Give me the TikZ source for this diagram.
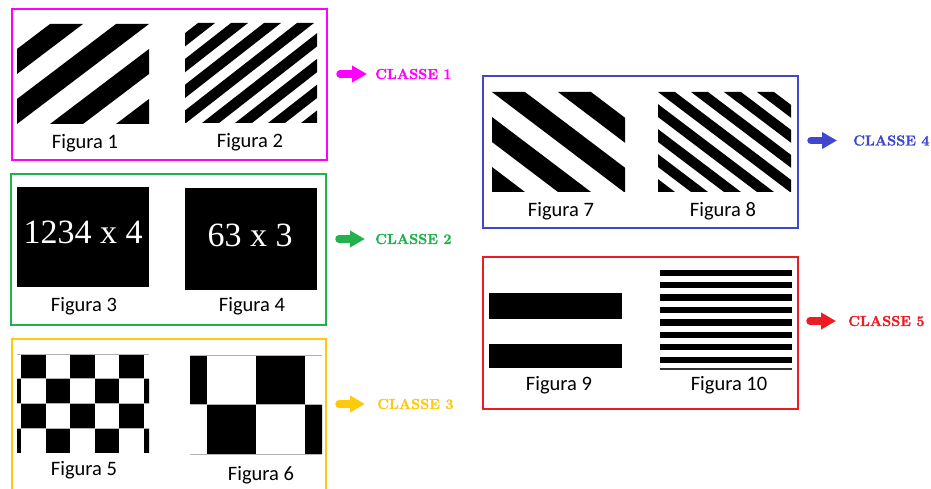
\documentclass[tikz,border=0pt]{standalone}
\usepackage{fontspec}
\newfontfamily\figfont{Carlito}
\newfontfamily\numfont{Liberation Serif}
\newfontfamily\classfont{Latin Modern Roman}[BoldFeatures={FakeBold=1.3}]
\usetikzlibrary{arrows.meta}
\definecolor{cmag}{RGB}{255,0,255}
\definecolor{cgreen}{RGB}{34,177,76}
\definecolor{cyellow}{RGB}{255,201,14}
\definecolor{cblue}{RGB}{63,72,204}
\definecolor{cred}{RGB}{237,28,36}
\tikzstyle{figframe} = [draw, line width=2.5pt]
\tikzstyle{caption} = [anchor=base, inner sep=0pt, font=\figfont\fontsize{20.5}{24}\selectfont]
\tikzstyle{classe} = [anchor=west, inner sep=0pt, font=\classfont\bfseries\fontsize{14.5}{17}\selectfont]
\tikzstyle{numtext} = [inner sep=0pt, text=white, font=\numfont\fontsize{34}{40}\selectfont]
\tikzstyle{fatarrow} = [line width=7.5pt, line cap=round, -{Triangle[length=15pt,width=16pt]}]
\tikzstyle{gridline} = [gray!60, line width=0.6pt]

% stripes in a 132x100 field: left, top, starts on the top edge, band width, run
\newcommand{\upstripes}[5]{%
  \begin{scope}
    \clip (#1,#2) rectangle ++(132,100);
    \foreach \s in {#3}
      \fill (\s,#2) -- ++(#4,0) -- ++(-#5,100) -- ++(-#4,0) -- cycle;
  \end{scope}}
\newcommand{\downstripes}[5]{%
  \begin{scope}
    \clip (#1,#2) rectangle ++(133,100);
    \foreach \s in {#3}
      \fill (\s,#2) -- ++(#4,0) -- ++(#5,100) -- ++(-#4,0) -- cycle;
  \end{scope}}

\begin{document}
\begin{tikzpicture}[x=1pt, y=-1pt]
    \useasboundingbox (0,0) rectangle (931,489);
    \fill[white] (0,0) rectangle (931,489);
    \clip (0,0) rectangle (931,489);

    % frames
    \draw[figframe, cmag] (12,9) rectangle (327,160);
    \draw[figframe, cgreen] (11,174) rectangle (326,325);
    \draw[figframe, cyellow] (12,499) -- (12,339) -- (326,339) -- (326,499);
    \draw[figframe, cblue] (483,76) rectangle (798,228);
    \draw[figframe, cred] (483,257) rectangle (798,409);

    % diagonal stripes
    \upstripes{17}{24}{-16,50,...,248}{33}{132}
    \upstripes{185}{23}{165,198,...,462}{17}{128}
    \downstripes{492}{92}{294,360,...,558}{33}{132}
    \downstripes{658}{92}{493,526,...,757}{17}{132}

    % numbers
    \fill (17,187) rectangle (149,287);
    \fill (185,188) rectangle (317,290);
    \node[numtext] (n3) at (83,232.5) {1234 x 4};
    \node[numtext] (n4) at (250,235) {63 x 3};

    % checkerboards
    \begin{scope}
        \clip (17,354) rectangle (149,453);
        \foreach \r/\off in {0/21,1/-3.5,2/21,3/-3.5}
            \foreach \c in {0,1,2,3}
                \fill ({\off+49*\c},{354+24.75*\r}) rectangle ++(24.5,24.75);
    \end{scope}
    \foreach \y in {354,378.75,403.5,428.25}
        \draw[gridline] (17,\y) -- (149,\y);
    \begin{scope}
        \clip (190,355) rectangle (322,454);
        \foreach \r/\off in {0/158,1/207}
            \foreach \c in {0,1}
                \fill ({\off+98*\c},{355+49.5*\r}) rectangle ++(49,49.5);
    \end{scope}
    \foreach \y in {355,404.5,454}
        \draw[gridline] (190,\y) -- (322,\y);

    % horizontal bars
    \fill (489,293) rectangle (622,319);
    \fill (489,344) rectangle (622,368);
    \foreach \k in {0,...,7}
        \fill (660,{269.5+12.45*\k}) rectangle ++(132,6.2);
    \draw[line width=1.2pt, black!80] (660,369) -- (792,369);

    % captions
    \node[caption] (f1) at (85,149) {Figura 1};
    \node[caption] (f2) at (250,147.5) {Figura 2};
    \node[caption] (f3) at (84,311.5) {Figura 3};
    \node[caption] (f4) at (252,311.5) {Figura 4};
    \node[caption] (f5) at (84,475.5) {Figura 5};
    \node[caption] (f6) at (261,480.5) {Figura 6};
    \node[caption] (f7) at (561,216) {Figura 7};
    \node[caption] (f8) at (723,216) {Figura 8};
    \node[caption] (f9) at (559,390.5) {Figura 9};
    \node[caption] (f10) at (729,390.5) {Figura 10};

    % classes
    \coordinate (a1) at (340,74);
    \coordinate (a2) at (339,239);
    \coordinate (a3) at (339,404);
    \coordinate (a4) at (811,140.5);
    \coordinate (a5) at (810,321);
    \node[classe, text=cmag] (c1) at (375,74) {CLASSE 1};
    \node[classe, text=cgreen] (c2) at (375,239) {CLASSE 2};
    \node[classe, text=cyellow] (c3) at (377,404) {CLASSE 3};
    \node[classe, text=cblue] (c4) at (853,140.5) {CLASSE 4};
    \node[classe, text=cred] (c5) at (848,321) {CLASSE 5};
    \draw[fatarrow, cmag, shorten >=8pt] (a1) -- (c1.west);
    \draw[fatarrow, cgreen, shorten >=10pt] (a2) -- (c2.west);
    \draw[fatarrow, cyellow, shorten >=12pt] (a3) -- (c3.west);
    \draw[fatarrow, cblue, shorten >=16pt] (a4) -- (c4.west);
    \draw[fatarrow, cred, shorten >=12pt] (a5) -- (c5.west);
\end{tikzpicture}
\end{document}
